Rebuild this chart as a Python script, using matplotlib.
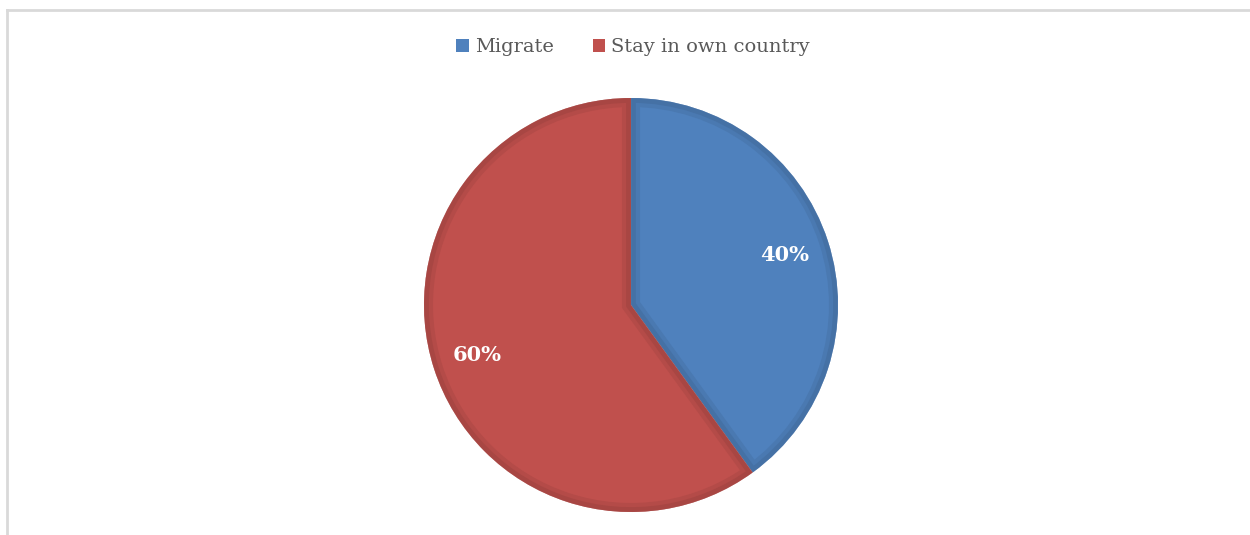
import matplotlib.pyplot as plt
from matplotlib.patches import Rectangle, Wedge
import matplotlib.colors as mcolors

labels = ["Migrate", "Stay in own country"]
shares = [40, 60]
colors = ["#4F81BD", "#C0504D"]


def darker(c, f=0.88):
    r, g, b = mcolors.to_rgb(c)
    return (r * f, g * f, b * f)


W, H = 1250, 535
fig = plt.figure(figsize=(W / 100, H / 100), dpi=100)
fig.patch.set_facecolor("white")

# chart frame (only top and left edges fall inside the image)
fig.add_artist(plt.Line2D([7 / W, 7 / W], [0, 1 - 9.5 / H], transform=fig.transFigure,
                          color="#D9D9D9", lw=2))
fig.add_artist(plt.Line2D([7 / W, 1], [1 - 9.5 / H, 1 - 9.5 / H], transform=fig.transFigure,
                          color="#D9D9D9", lw=2))

# pie area: center (631, 305) px, radius 207 px
r = 207
cx, cy = 631, 305
ax = fig.add_axes([(cx - r) / W, 1 - (cy + r) / H, 2 * r / W, 2 * r / H])
wedges, _, autotexts = ax.pie(
    shares, colors=colors, startangle=90, counterclock=False,
    autopct="%d%%", pctdistance=0.78, radius=1,
    wedgeprops=dict(edgecolor="white", linewidth=0.6),
    textprops=dict(color="white", fontsize=15, fontweight="bold", family="DejaVu Serif"))
ax.set_xlim(-1, 1)
ax.set_ylim(-1, 1)
ax.set_aspect("equal")
ax.axis("off")

# soft darker bevel band along each wedge's inner edge
for w, c in zip(wedges, colors):
    for lw, f, a in [(13, 0.92, 0.8), (7, 0.86, 0.8)]:
        rim = Wedge(w.center, w.r, w.theta1, w.theta2,
                    facecolor="none", edgecolor=darker(c, f), linewidth=lw, alpha=a)
        ax.add_patch(rim)
        rim.set_clip_path(w)
    w.set_zorder(1)

# legend
handles = [Rectangle((0, 0), 1, 1, facecolor=c) for c in colors]
leg = fig.legend(handles, labels, loc="center", bbox_to_anchor=(633 / W, 1 - 47 / H),
                 ncol=2, frameon=False, handlelength=0.65, handleheight=0.65,
                 handletextpad=0.3, columnspacing=2.0,
                 prop=dict(family="DejaVu Serif", size=14))
for t in leg.get_texts():
    t.set_color("#595959")

fig.savefig("out.png", dpi=100)
